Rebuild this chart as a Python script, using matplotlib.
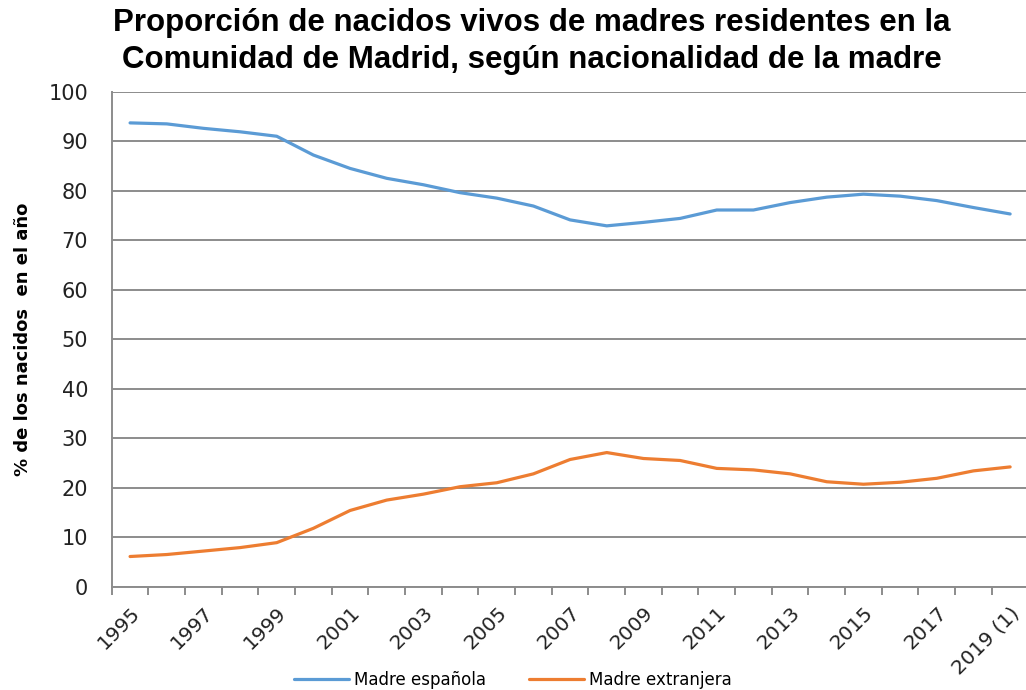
import matplotlib
matplotlib.use("Agg")
import matplotlib.pyplot as plt
from matplotlib.ticker import FixedLocator

years = [str(y) for y in range(1995, 2019)] + ["2019 (1)"]
madre_espanola = [93.7, 93.5, 92.6, 91.9, 91.0, 87.2, 84.5, 82.5, 81.2, 79.6,
                  78.5, 76.9, 74.1, 72.9, 73.6, 74.4, 76.1, 76.1, 77.6, 78.7,
                  79.3, 78.9, 78.0, 76.6, 75.3]
madre_extranjera = [6.1, 6.5, 7.2, 7.9, 8.9, 11.8, 15.4, 17.5, 18.7, 20.2,
                    21.0, 22.8, 25.7, 27.1, 25.9, 25.5, 23.9, 23.6, 22.8, 21.2,
                    20.7, 21.1, 21.9, 23.4, 24.2]
y_ticks = list(range(0, 101, 10))

BLUE = "#5B9BD5"
ORANGE = "#ED7D31"
GRID = "#8C8C8C"

fig = plt.figure(figsize=(10.26, 6.9), dpi=100)
ax = fig.add_axes([0.1089, 0.1497, 0.8935, 0.7174])

x = list(range(len(years)))
ax.plot(x, madre_espanola, color=BLUE, linewidth=2.3, label="Madre española",
        solid_joinstyle="round", solid_capstyle="round")
ax.plot(x, madre_extranjera, color=ORANGE, linewidth=2.3, label="Madre extranjera",
        solid_joinstyle="round", solid_capstyle="round")

ax.set_xlim(-0.5, len(years) - 0.5)
ax.set_ylim(0, 100)
ax.set_yticks(y_ticks)
ax.tick_params(axis="y", length=0, pad=17, labelsize=15, labelcolor="#222222")
ax.grid(axis="y", color=GRID, linewidth=1.4)
ax.set_axisbelow(True)

# tick marks between categories, labels every other year
ax.xaxis.set_minor_locator(FixedLocator([i - 0.5 for i in range(len(years) + 1)]))
ax.set_xticks(x[::2])
ax.set_xticklabels(years[::2], rotation=45, ha="right", va="top",
                   rotation_mode="anchor", fontsize=14.5, color="#222222")
ax.tick_params(axis="x", which="major", length=0, pad=12)

ax.tick_params(axis="x", which="minor", length=6, width=1.4, color=GRID)

for side in ("top", "right"):
    ax.spines[side].set_visible(False)
for side in ("left", "bottom"):
    ax.spines[side].set_color(GRID)
    ax.spines[side].set_linewidth(1.4)

ax.set_ylabel("% de los nacidos  en el año", fontsize=13, fontweight="bold",
              labelpad=12)

fig.text(0.518, 0.988, "Proporción de nacidos vivos de madres residentes en la\n"
         "Comunidad de Madrid, según nacionalidad de la madre",
         ha="center", va="top", fontsize=22.5, fontweight="bold",
         family="Liberation Sans", linespacing=1.3)

fig.legend(loc="lower center", bbox_to_anchor=(0.5, -0.02), ncol=2,
           frameon=False, fontsize=12, handlelength=3.3, columnspacing=2.6,
           handletextpad=0.3)

fig.savefig("out.png", dpi=100)
